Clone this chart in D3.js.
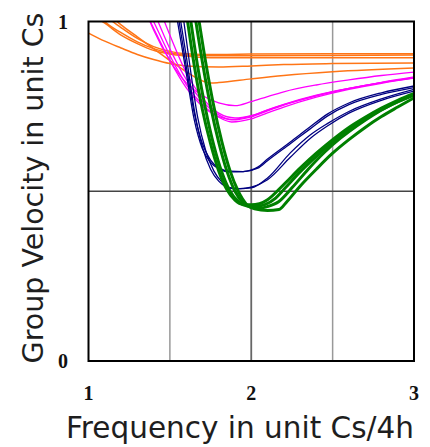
<!DOCTYPE html>
<html>
<head>
<meta charset="utf-8">
<script src="https://cdn.jsdelivr.net/npm/d3@7"></script>
<style>
  body { margin: 0; background: #fff; }
  .tick-label { font-family: "Liberation Serif", serif; font-weight: bold; font-size: 20px; fill: #111; }
  .title { font-family: "DejaVu Sans", sans-serif; fill: #1e1e1e; }
</style>
</head>
<body>
<svg id="chart" width="430" height="447"></svg>
<script>
// tick labels and grid positions
const xTicks = [1, 2, 3];
const yTicks = [0, 1];
const xGrid = [1.5, 2, 2.5];
const yGrid = [0.5];

// curves, [frequency, group velocity]
const orange = [
    [[1,0.966],[1.1,0.942],[1.2,0.922],[1.3,0.903],[1.4,0.888],[1.5,0.876],[1.6,0.869],[1.8,0.866],[2,0.869],[2.2,0.873],[2.5,0.876],[3,0.878]],
    [[1.05,1.01],[1.1,0.995],[1.2,0.96],[1.3,0.935],[1.4,0.915],[1.5,0.904],[1.6,0.898],[1.7,0.894],[1.8,0.893],[2,0.893],[2.5,0.893],[3,0.893]],
    [[1.08,1.01],[1.1,1.0],[1.2,0.967],[1.3,0.94],[1.4,0.92],[1.5,0.907],[1.6,0.901],[1.7,0.899],[1.8,0.899],[2,0.899],[2.5,0.9],[3,0.901]],
    [[1.12,1.01],[1.2,0.982],[1.3,0.95],[1.4,0.926],[1.5,0.912],[1.6,0.905],[1.7,0.903],[1.8,0.903],[2,0.904],[2.5,0.905],[3,0.905]],
    [[1.15,1.01],[1.2,0.99],[1.3,0.955],[1.4,0.92],[1.5,0.885],[1.6,0.852],[1.7,0.825],[1.75,0.819],[1.8,0.82],[2,0.831],[2.2,0.841],[2.5,0.852],[3,0.863]]
];

const magenta = [
    [[1.36,1.02],[1.4,0.975],[1.5,0.885],[1.6,0.82],[1.7,0.782],[1.8,0.76],[1.9,0.752],[2,0.764],[2.1,0.779],[2.2,0.793],[2.4,0.813],[2.6,0.828],[2.8,0.841],[3,0.851]],
    [[1.36,1.02],[1.4,0.98],[1.5,0.885],[1.6,0.805],[1.7,0.75],[1.8,0.72],[1.88,0.712],[2,0.722],[2.1,0.74],[2.2,0.756],[2.4,0.783],[2.6,0.803],[2.8,0.82],[3,0.834]],
    [[1.38,1.02],[1.4,1.0],[1.5,0.9],[1.6,0.815],[1.7,0.755],[1.8,0.718],[1.88,0.704],[2,0.713],[2.1,0.731],[2.2,0.748],[2.4,0.777],[2.6,0.8],[2.8,0.818],[3,0.833]],
    [[1.41,1.02],[1.5,0.92],[1.6,0.83],[1.7,0.765],[1.8,0.725],[1.88,0.71],[2,0.719],[2.1,0.737],[2.2,0.754],[2.4,0.781],[2.6,0.802],[2.8,0.82],[3,0.835]],
    [[1.45,1.02],[1.5,0.96],[1.6,0.85],[1.7,0.775],[1.8,0.73],[1.9,0.716],[2,0.723],[2.1,0.739],[2.2,0.755],[2.4,0.782],[2.6,0.803],[2.8,0.821],[3,0.837]]
];

const navy = [
    [[1.54,1.02],[1.6,0.85],[1.65,0.71],[1.7,0.625],[1.75,0.585],[1.8,0.566],[1.87,0.557],[1.95,0.558],[2.04,0.571],[2.1,0.595],[2.24,0.645],[2.36,0.689],[2.47,0.728],[2.6,0.76],[2.8,0.79],[3,0.81]],
    [[1.55,1.02],[1.6,0.87],[1.65,0.73],[1.7,0.64],[1.75,0.592],[1.8,0.569],[1.87,0.559],[1.95,0.558],[2.04,0.568],[2.1,0.59],[2.24,0.64],[2.36,0.683],[2.47,0.722],[2.6,0.755],[2.8,0.785],[3,0.805]],
    [[1.56,1.02],[1.6,0.9],[1.65,0.74],[1.7,0.63],[1.75,0.565],[1.8,0.53],[1.85,0.512],[1.9,0.507],[2,0.51],[2.1,0.539],[2.24,0.613],[2.36,0.665],[2.47,0.7],[2.6,0.735],[2.8,0.772],[3,0.8]],
    [[1.58,1.02],[1.62,0.88],[1.67,0.72],[1.72,0.62],[1.77,0.56],[1.82,0.527],[1.87,0.511],[1.93,0.508],[2,0.512],[2.1,0.534],[2.24,0.6],[2.36,0.655],[2.47,0.693],[2.6,0.73],[2.8,0.768],[3,0.795]]
];

const green = [
    [[1.6,1.03],[1.65,0.87],[1.7,0.74],[1.75,0.64],[1.8,0.56],[1.85,0.505],[1.9,0.474],[1.95,0.461],[2,0.46],[2.05,0.463],[2.1,0.475],[2.2,0.52],[2.3,0.568],[2.4,0.612],[2.5,0.652],[2.6,0.688],[2.7,0.718],[2.8,0.745],[2.9,0.768],[3,0.788]],
    [[1.62,1.03],[1.67,0.87],[1.72,0.74],[1.77,0.635],[1.82,0.555],[1.87,0.5],[1.92,0.47],[1.97,0.457],[2.02,0.455],[2.08,0.46],[2.15,0.48],[2.2,0.505],[2.3,0.557],[2.4,0.603],[2.5,0.645],[2.6,0.682],[2.7,0.713],[2.8,0.74],[2.9,0.763],[3,0.783]],
    [[1.65,1.03],[1.7,0.88],[1.75,0.75],[1.8,0.645],[1.85,0.56],[1.9,0.5],[1.95,0.466],[2,0.452],[2.05,0.45],[2.1,0.455],[2.17,0.47],[2.25,0.51],[2.35,0.565],[2.45,0.615],[2.55,0.657],[2.65,0.693],[2.75,0.725],[2.85,0.752],[3,0.785]],
    [[1.67,1.03],[1.72,0.88],[1.77,0.75],[1.82,0.645],[1.87,0.56],[1.92,0.5],[1.97,0.462],[2.02,0.448],[2.1,0.443],[2.17,0.446],[2.22,0.47],[2.3,0.515],[2.4,0.565],[2.5,0.612],[2.6,0.652],[2.7,0.688],[2.8,0.72],[2.9,0.748],[3,0.775]]
];

const groups = [
    { curves: orange, color: "#ff7516", width: 1.5 },
    { curves: magenta, color: "#ff00ff", width: 1.3 },
    { curves: navy, color: "#000080", width: 1.3 },
    { curves: green, color: "#008000", width: 3 }
];

// SVG setup

const svg = d3.select("#chart");

const x = d3.scaleLinear()
    .domain([1, 3])
    .range([88.5, 414]);

const y = d3.scaleLinear()
    .domain([0, 1])
    .range([361, 21.5]);

svg.append("clipPath")
    .attr("id", "plot")
    .append("rect")
    .attr("x", x(1))
    .attr("y", y(1))
    .attr("width", x(3) - x(1))
    .attr("height", y(0) - y(1));

// Grid

svg.selectAll(".vgrid")
    .data(xGrid)
    .join("line")
    .attr("x1", d => x(d))
    .attr("x2", d => x(d))
    .attr("y1", y(0))
    .attr("y2", y(1))
    .attr("stroke", d => d === 2 ? "#666" : "#999")
    .attr("stroke-width", d => d === 2 ? 1.8 : 1.5);

svg.selectAll(".hgrid")
    .data(yGrid)
    .join("line")
    .attr("x1", x(1))
    .attr("x2", x(3))
    .attr("y1", d => y(d))
    .attr("y2", d => y(d))
    .attr("stroke", "#444")
    .attr("stroke-width", 1.5);

// Curves

const line = d3.line()
    .x(d => x(d[0]))
    .y(d => y(d[1]))
    .curve(d3.curveMonotoneX);

const plot = svg.append("g").attr("clip-path", "url(#plot)");

groups.forEach(g => {
    plot.selectAll(null)
        .data(g.curves)
        .join("path")
        .attr("fill", "none")
        .attr("stroke", g.color)
        .attr("stroke-width", g.width)
        .attr("stroke-linejoin", "round")
        .attr("d", line);
});

// Frame

svg.append("rect")
    .attr("x", x(1))
    .attr("y", y(1))
    .attr("width", x(3) - x(1))
    .attr("height", y(0) - y(1))
    .attr("fill", "none")
    .attr("stroke", "#000")
    .attr("stroke-width", 2);

// Tick labels

svg.selectAll(".xt")
    .data(xTicks)
    .join("text")
    .attr("class", "tick-label")
    .attr("x", d => x(d))
    .attr("y", 400)
    .attr("text-anchor", "middle")
    .text(d => d);

svg.selectAll(".yt")
    .data(yTicks)
    .join("text")
    .attr("class", "tick-label")
    .attr("x", 63)
    .attr("y", d => y(d) + 7)
    .attr("text-anchor", "middle")
    .text(d => d);

// Axis titles

svg.append("text")
    .attr("class", "title")
    .attr("x", 240)
    .attr("y", 438)
    .attr("text-anchor", "middle")
    .style("font-size", "29.5px")
    .text("Frequency in unit Cs/4h");

svg.append("text")
    .attr("class", "title")
    .attr("transform", "translate(43,188) rotate(-90)")
    .attr("text-anchor", "middle")
    .style("font-size", "28.5px")
    .text("Group Velocity in unit Cs");
</script>
</body>
</html>
